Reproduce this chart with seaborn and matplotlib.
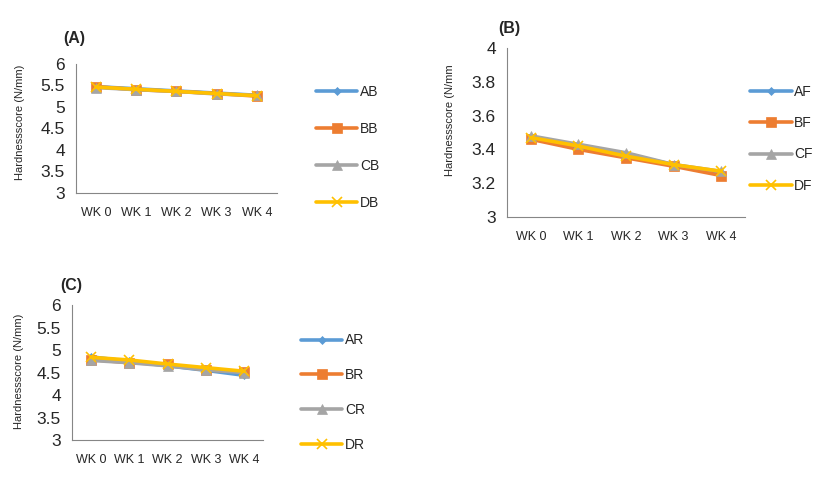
import numpy as np
import pandas as pd
import matplotlib
matplotlib.use("Agg")
import matplotlib.pyplot as plt
import seaborn as sns

# Data
weeks = ["WK 0", "WK 1", "WK 2", "WK 3", "WK 4"]

labels_a = ["AB", "BB", "CB", "DB"]
AB = [5.47, 5.42, 5.37, 5.32, 5.27]
BB = [5.47, 5.40, 5.36, 5.31, 5.25]
CB = [5.45, 5.40, 5.36, 5.30, 5.27]
DB = [5.46, 5.41, 5.36, 5.31, 5.26]

labels_b = ["AF", "BF", "CF", "DF"]
AF = [3.47, 3.42, 3.37, 3.31, 3.26]
BF = [3.46, 3.40, 3.35, 3.30, 3.245]
CF = [3.48, 3.43, 3.38, 3.31, 3.27]
DF = [3.47, 3.42, 3.36, 3.31, 3.27]

labels_c = ["AR", "BR", "CR", "DR"]
AR = [4.85, 4.75, 4.65, 4.55, 4.44]
BR = [4.79, 4.72, 4.68, 4.56, 4.52]
CR = [4.77, 4.72, 4.65, 4.56, 4.50]
DR = [4.84, 4.78, 4.69, 4.61, 4.53]

colors = ["#5B9BD5", "#ED7D31", "#A5A5A5", "#FFC000"]
markers = ["D", "s", "^", "x"]
msizes = [4, 7, 7, 7]

sns.set_style("white")
plt.rcParams["font.family"] = ["Liberation Sans", "DejaVu Sans"]
axis_grey = "#868686"


def long_form(names, series):
    rows = []
    for name, vals in zip(names, series):
        for i, v in enumerate(vals):
            rows.append({"series": name, "pos": i + 0.5, "value": v})
    return pd.DataFrame(rows)


def panel(fig, rect, tag, names, series, yticks, ylabel, ylab_xy, leg_anchor, spacing, tag_xy):
    ax = fig.add_axes(rect)
    df = long_form(names, series)
    for name, c, m, ms in zip(names, colors, markers, msizes):
        sub = df[df["series"] == name]
        sns.lineplot(data=sub, x="pos", y="value", ax=ax, color=c, marker=m,
                     markersize=ms, markeredgecolor=c, markeredgewidth=1.2 if m == "x" else 0.5,
                     linewidth=2.6, label=name)
    ax.set_xlim(0, len(weeks))
    ax.set_ylim(yticks[0], yticks[-1])
    ax.set_yticks(yticks)
    ax.set_yticklabels([f"{t:g}" for t in yticks], fontsize=12.5)
    ax.set_xticks(np.arange(len(weeks) + 1))
    ax.set_xticklabels([])
    ax.set_xticks(np.arange(len(weeks)) + 0.5, minor=True)
    ax.set_xticklabels(weeks, minor=True, fontsize=9)
    ax.tick_params(axis="x", which="minor", length=0, pad=10)
    ax.tick_params(axis="both", which="major", length=5, color=axis_grey, direction="out")
    ax.tick_params(axis="y", pad=3)
    ax.set_xlabel("")
    ax.set_ylabel(ylabel, fontsize=8)
    ax.yaxis.set_label_coords(*ylab_xy)
    for s in ["top", "right"]:
        ax.spines[s].set_visible(False)
    for s in ["left", "bottom"]:
        ax.spines[s].set_color(axis_grey)
        ax.spines[s].set_linewidth(0.8)
    ax.legend(loc="upper left", bbox_to_anchor=leg_anchor, bbox_transform=fig.transFigure,
              frameon=False, fontsize=10, handlelength=3.0, labelspacing=spacing,
              handletextpad=0.2, borderaxespad=0)
    fig.text(tag_xy[0], tag_xy[1], tag, fontsize=11.5, fontweight="bold", ha="left", va="center")
    return ax


fig = plt.figure(figsize=(8.27, 4.8), dpi=100)

panel(fig, [0.0919, 0.598, 0.243, 0.269], "(A)", labels_a, [AB, BB, CB, DB],
      [3, 3.5, 4, 4.5, 5, 5.5, 6], "Hardnessscore (N/mm)", (-0.255, 0.55),
      (0.375, 0.835), 1.65, (0.076, 0.92))
panel(fig, [0.613, 0.548, 0.288, 0.352], "(B)", labels_b, [AF, BF, CF, DF],
      [3, 3.2, 3.4, 3.6, 3.8, 4], "Hardnessscore (N/mm", (-0.22, 0.574),
      (0.900, 0.835), 1.25, (0.603, 0.94))
panel(fig, [0.0871, 0.0833, 0.231, 0.281], "(C)", labels_c, [AR, BR, CR, DR],
      [3, 3.5, 4, 4.5, 5, 5.5, 6], "Hardnessscore (N/mm)", (-0.25, 0.51),
      (0.357, 0.317), 1.5, (0.073, 0.405))

fig.savefig("out.png", dpi=100)
